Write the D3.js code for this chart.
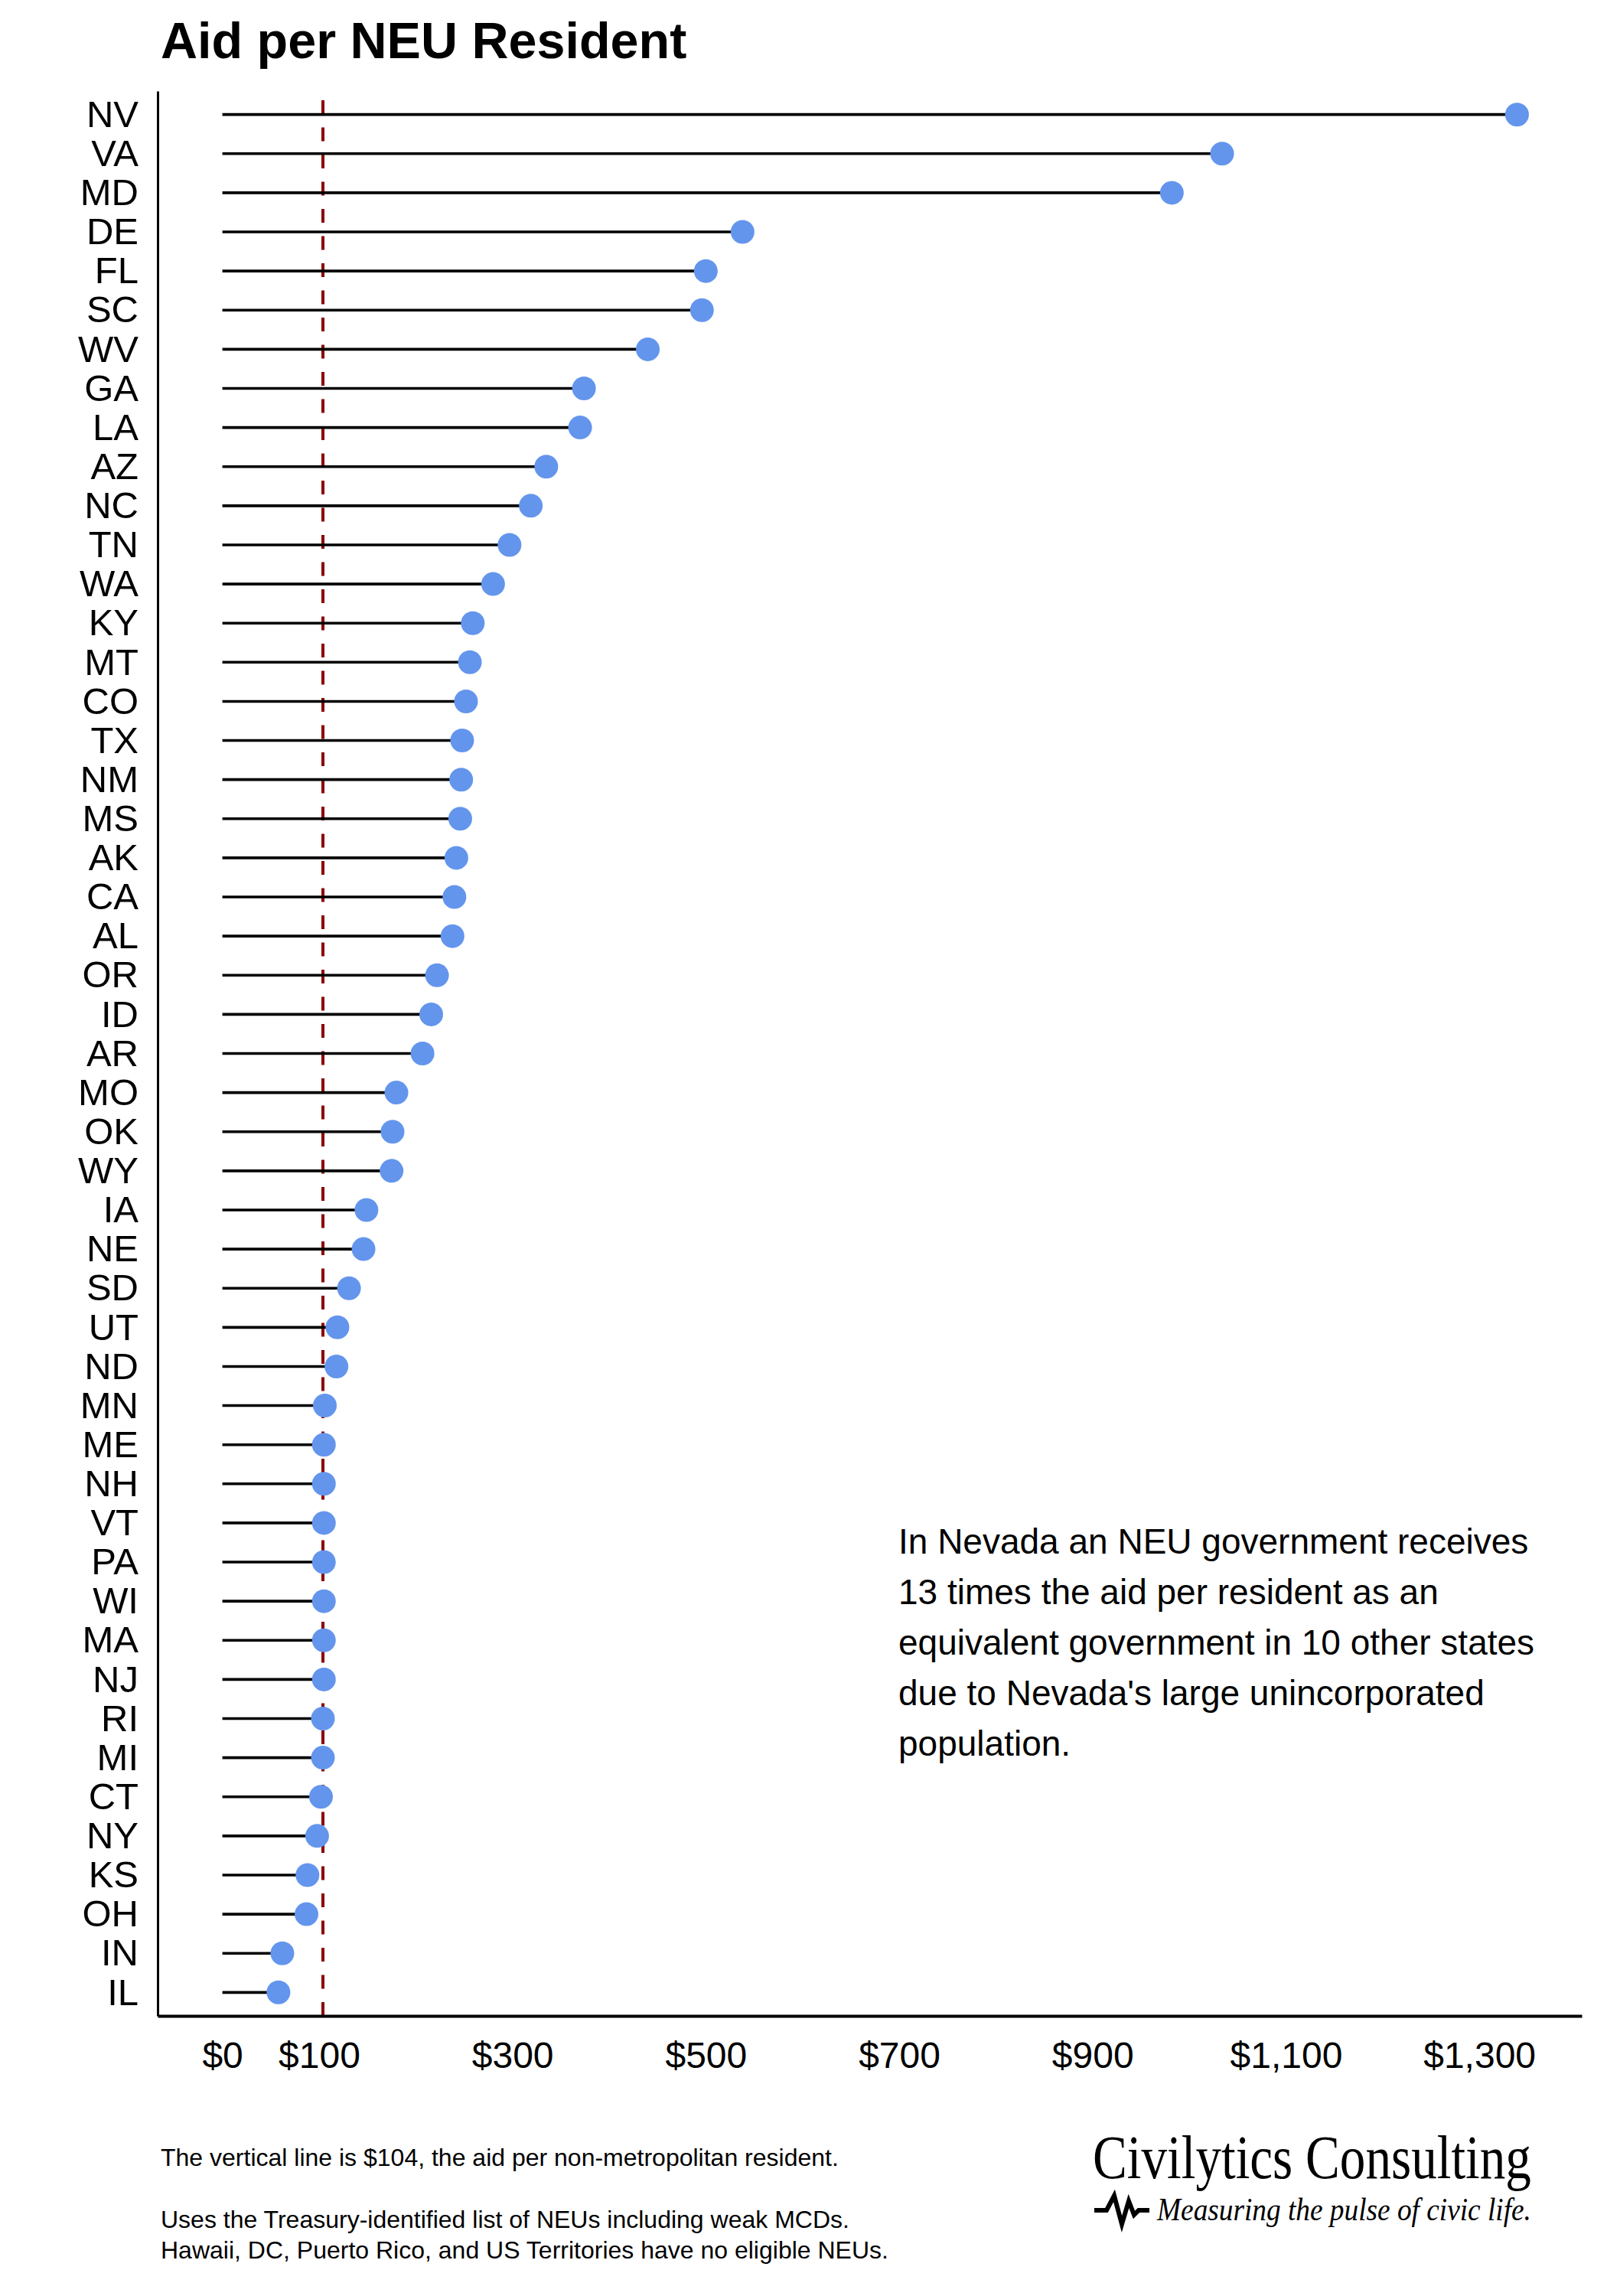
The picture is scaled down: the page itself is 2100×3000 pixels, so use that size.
<!DOCTYPE html>
<html>
<head>
<meta charset="utf-8">
<script src="https://cdn.jsdelivr.net/npm/d3@7"></script>
<style>
  body { margin: 0; background: #fff; }
  svg { display: block; }
</style>
</head>
<body>
<script>
// states, sorted by aid per NEU resident (top to bottom)
const states = ["NV","VA","MD","DE","FL","SC","WV","GA","LA","AZ","NC","TN","WA","KY","MT",
  "CO","TX","NM","MS","AK","CA","AL","OR","ID","AR","MO","OK","WY","IA","NE","SD","UT","ND",
  "MN","ME","NH","VT","PA","WI","MA","NJ","RI","MI","CT","NY","KS","OH","IN","IL"];
const aidPerResident = [1339,1034,982,538,500,496,440,374,370,335,319,297,280,259,256,
  252,248,247,246,242,240,238,222,216,207,180,176,175,149,146,131,119,118,
  106,105,105,105,105,105,105,105,104,104,102,98,88,87,62,58];
const nonMetroAid = 104;
const xTicks = [0,100,300,500,700,900,1100,1300];

const title = "Aid per NEU Resident";
const noteLines = ["In Nevada an NEU government receives",
  "13 times the aid per resident as an",
  "equivalent government in 10 other states",
  "due to Nevada's large unincorporated",
  "population."];
const footLines = ["The vertical line is $104, the aid per non-metropolitan resident.",
  "Uses the Treasury-identified list of NEUs including weak MCDs.",
  "Hawaii, DC, Puerto Rico, and US Territories have no eligible NEUs."];

(function() {
  const W = 2100, H = 3000;
  const pLeft = 206, pRight = 2067, pTop = 119, pBottom = 2634;
  const sans = "'Liberation Sans', Arial, sans-serif";
  const serif = "'Liberation Serif', 'DejaVu Serif', serif";

  const data = states.map((s, i) => ({state: s, value: aidPerResident[i]}));

  const svg = d3.select("body").append("svg")
    .attr("width", W).attr("height", H)
    .attr("viewBox", [0, 0, W, H]);
  svg.append("rect").attr("width", W).attr("height", H).attr("fill", "#fff");

  // ggplot-style 5% expansion of [0, max]
  const maxV = d3.max(aidPerResident);
  const pad = maxV * 0.05;
  const x = d3.scaleLinear().domain([-pad, maxV + pad]).range([pLeft, pRight]);
  const y = d3.scalePoint().domain(states).range([pTop, pBottom]).padding(0.6);

  svg.append("text")
    .attr("x", 210).attr("y", 76)
    .attr("font-family", sans).attr("font-weight", "bold").attr("font-size", 66.5)
    .text(title);

  // reference line, dashes start at the bottom like R does
  svg.append("line")
    .attr("x1", x(nonMetroAid)).attr("x2", x(nonMetroAid))
    .attr("y1", pBottom).attr("y2", pTop)
    .attr("stroke", "#8B0000").attr("stroke-width", 4)
    .attr("stroke-dasharray", "18,17.5");

  svg.append("g").selectAll("line")
    .data(data)
    .join("line")
      .attr("x1", x(0)).attr("x2", d => x(d.value))
      .attr("y1", d => y(d.state)).attr("y2", d => y(d.state))
      .attr("stroke", "#000").attr("stroke-width", 3.6);

  svg.append("g").selectAll("circle")
    .data(data)
    .join("circle")
      .attr("cx", d => x(d.value))
      .attr("cy", d => y(d.state))
      .attr("r", 15.5)
      .attr("fill", "#6495ED");

  const xAxis = svg.append("g")
    .attr("transform", `translate(0,${pBottom})`)
    .call(d3.axisBottom(x).tickValues(xTicks).tickFormat(d3.format("$,")).tickSize(0).tickSizeOuter(0).tickPadding(34));
  xAxis.select(".domain").attr("stroke", "#000").attr("stroke-width", 4);
  xAxis.selectAll("text").attr("font-family", sans).attr("font-size", 48).attr("fill", "#000");

  const yAxis = svg.append("g")
    .attr("transform", `translate(${pLeft},0)`)
    .call(d3.axisLeft(y).tickSize(0).tickSizeOuter(0).tickPadding(25));
  yAxis.select(".domain").attr("stroke", "#000").attr("stroke-width", 3);
  yAxis.selectAll("text").attr("font-family", sans).attr("font-size", 49).attr("fill", "#000");

  svg.append("g").selectAll("text")
    .data(noteLines)
    .join("text")
      .attr("x", 1174).attr("y", (d, i) => 2030 + i * 66)
      .attr("font-family", sans).attr("font-size", 46)
      .text(d => d);

  svg.append("g").selectAll("text")
    .data(footLines)
    .join("text")
      .attr("x", 210).attr("y", (d, i) => [2830, 2911, 2951][i])
      .attr("font-family", sans).attr("font-size", 32)
      .text(d => d);

  // logo: condensed serif, squeezed horizontally to fit its width
  function squeezed(txt, x0, y0, size, italic, width) {
    const g = svg.append("g").attr("transform", `translate(${x0},${y0})`);
    const t = g.append("text")
      .attr("font-family", serif).attr("font-size", size)
      .attr("font-style", italic ? "italic" : "normal")
      .text(txt);
    const w = t.node().getComputedTextLength();
    t.attr("transform", `scale(${width / w},1)`);
  }
  squeezed("Civilytics Consulting", 1428, 2846, 80, false, 573);
  svg.append("path")
    .attr("d", "M1430,2888 L1446,2888 L1456,2869 L1466,2906 L1475,2876 L1482,2894 L1488,2888 L1502,2888")
    .attr("fill", "none").attr("stroke", "#000").attr("stroke-width", 6)
    .attr("stroke-linejoin", "miter");
  squeezed("Measuring the pulse of civic life.", 1512, 2901, 42, true, 489);
})();
</script>
</body>
</html>
